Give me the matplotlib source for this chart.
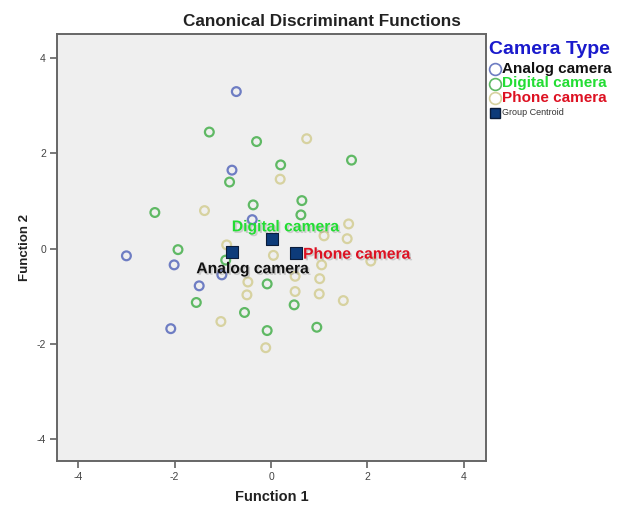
import matplotlib
matplotlib.use("Agg")
import matplotlib.pyplot as plt
import matplotlib.patheffects as pe
from matplotlib.lines import Line2D

plt.rcParams['font.family'] = ['Liberation Sans', 'DejaVu Sans']

# Discriminant scores per group (Function 1, Function 2)
analog_f1 = [-0.72, -0.81, -0.39, -3.00, -2.01, -1.02, -1.49, -2.08]
analog_f2 = [3.30, 1.65, 0.61, -0.15, -0.34, -0.55, -0.78, -1.68]

digital_f1 = [-1.28, -0.30, -0.86, -2.41, -0.37, -1.93, 0.20, 1.67, 0.64,
              0.62, -0.94, -0.08, -1.55, -0.55, -0.08, 0.48, 0.95]
digital_f2 = [2.45, 2.25, 1.40, 0.76, 0.92, -0.02, 1.76, 1.86, 1.01,
              0.71, -0.24, -0.74, -1.13, -1.34, -1.72, -1.18, -1.65]

phone_f1 = [-1.38, -0.92, 0.74, 0.19, 1.61, 1.10, 1.58, -0.48, -0.50, -1.04,
            -0.11, 0.05, 1.05, 2.07, 0.50, 0.50, 1.00, 1.01, 1.50]
phone_f2 = [0.80, 0.08, 2.31, 1.46, 0.52, 0.27, 0.21, -0.70, -0.97, -1.53,
            -2.08, -0.14, -0.34, -0.26, -0.58, -0.90, -0.95, -0.63, -1.09]

groups = ["Analog camera", "Digital camera", "Phone camera"]
centroid_f1 = [-0.81, 0.03, 0.52]
centroid_f2 = [-0.08, 0.20, -0.10]

ticks = [-4, -2, 0, 2, 4]

point_colors = ["#6e7dc3", "#5fb964", "#d7d2a0"]
label_colors = ["#111111", "#22dd33", "#dd1122"]
label_offsets = [(-25.7, -11.7), (-29.3, 8.9), (5.0, -0.5)]
centroid_color = "#0d3b7a"

fig = plt.figure(figsize=(6.21, 5.08), dpi=100)
fig.patch.set_facecolor("white")
ax = fig.add_axes([0.0918, 0.0925, 0.6908, 0.8406])
ax.set_facecolor("#efefef")

for xs, ys, c in zip([analog_f1, digital_f1, phone_f1],
                     [analog_f2, digital_f2, phone_f2], point_colors):
    ax.scatter(xs, ys, s=40, facecolors="none", edgecolors=c, linewidths=1.6,
               zorder=2)

ax.scatter(centroid_f1, centroid_f2, marker="s", s=72, color=centroid_color,
           edgecolors="#0a1c3a", linewidths=0.8, zorder=4)

shadow = [pe.SimplePatchShadow(offset=(1.2, -1.2), shadow_rgbFace="#888888",
                               alpha=0.35), pe.Normal()]
for name, x, y, col, off in zip(groups, centroid_f1, centroid_f2,
                                label_colors, label_offsets):
    ax.annotate(name, xy=(x, y), xytext=off, textcoords="offset points",
                ha="left", va="center", fontsize=11.3, fontweight="bold",
                color=col, path_effects=shadow, zorder=5)

ax.set_xlim(-4.44, 4.46)
ax.set_ylim(-4.46, 4.51)
ax.set_xticks(ticks)
ax.set_yticks(ticks)
ax.set_xticklabels([str(t) for t in ticks])
ax.set_yticklabels([str(t) for t in ticks])
ax.tick_params(direction="out", length=5, width=1.1, color="#555555",
               labelsize=7.5, labelcolor="#444444", pad=3)
for sp in ax.spines.values():
    sp.set_color("#666666")
    sp.set_linewidth(1.4)

ax.set_xlabel("Function 1", fontsize=10.5, fontweight="bold", color="#222222",
              labelpad=6)
ax.set_ylabel("Function 2", fontsize=9.5, fontweight="bold", color="#222222",
              labelpad=4)

fig.text(322 / 621, 1 - 21.5 / 508, "Canonical Discriminant Functions",
         ha="center", va="center", fontsize=12.3, fontweight="bold",
         color="#222222")

# Legend block on the right
W, H = 621, 508
def fpos(px, py):
    return px / W, 1 - py / H

fig.text(*fpos(489, 50), "Camera Type", ha="left", va="center", fontsize=14,
         fontweight="bold", color="#1a1acc")
row_y = [69, 83.5, 98]
for name, c, tc, y in zip(groups, point_colors, label_colors, row_y):
    mx, my = fpos(495, y)
    fig.add_artist(Line2D([mx], [my], marker="o", markersize=8.5,
                          markerfacecolor="none", markeredgecolor=c,
                          markeredgewidth=1.2, linestyle="none",
                          transform=fig.transFigure))
    fig.text(*fpos(502, y), name, ha="left", va="center", fontsize=11,
             fontweight="bold", color=tc)
mx, my = fpos(495, 112.5)
fig.add_artist(Line2D([mx], [my], marker="s", markersize=7,
                      color=centroid_color, markeredgecolor="#0a1c3a",
                      linestyle="none", transform=fig.transFigure))
fig.text(*fpos(502, 112.5), "Group Centroid", ha="left", va="center",
         fontsize=6.5, color="#333333")

fig.savefig("out.png", dpi=100)
